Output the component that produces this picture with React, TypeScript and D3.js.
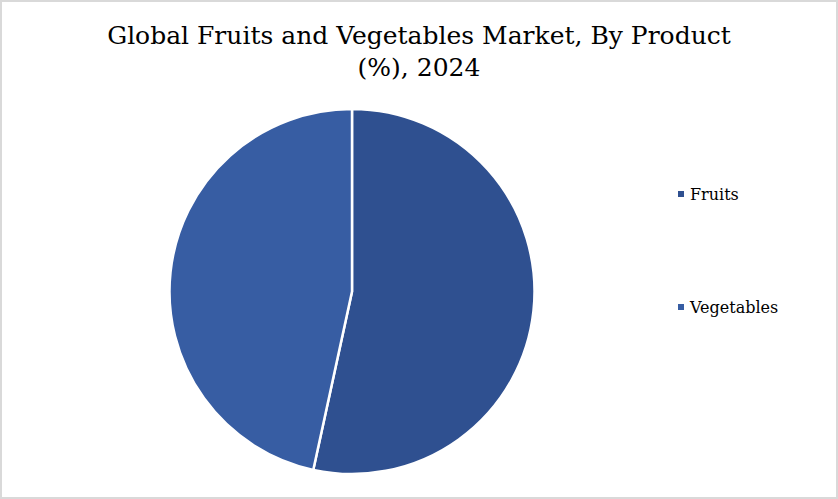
import * as d3 from "d3";
import * as React from "react";

const categories = ["Fruits", "Vegetables"];
const shares = [53.4, 46.6];
const colors = ["#2f5090", "#375da3"];
const titleLines = ["Global Fruits and Vegetables Market, By Product", "(%), 2024"];

export default function App() {
  const width = 838;
  const height = 499;
  const cx = 352;
  const cy = 291.5;
  const r = 182.5;

  const pie = d3
    .pie<number>()
    .sort(null)
    .value((d) => d);
  const arcs = pie(shares);
  const arc = d3.arc<d3.PieArcDatum<number>>().innerRadius(0).outerRadius(r);

  const font = "Georgia, 'DejaVu Serif', serif";

  return (
    <div style={{ position: "absolute", left: 0, top: 0 }}>
      <svg width={width} height={height} style={{ display: "block" }}>
        <rect x={1} y={1} width={width - 2} height={height - 2} fill="#fff" stroke="#d9d9d9" strokeWidth={2} />
        {titleLines.map((t, i) => (
          <text
            key={i}
            x={419}
            y={44 + i * 32}
            textAnchor="middle"
            fontFamily={font}
            fontSize={25}
            fill="#000"
          >
            {t}
          </text>
        ))}
        <g transform={`translate(${cx},${cy})`}>
          {arcs.map((a, i) => (
            <path key={i} d={arc(a) || ""} fill={colors[i]} stroke="#fff" strokeWidth={2.5} />
          ))}
        </g>
        {categories.map((c, i) => (
          <g key={c} transform={`translate(678,${194 + i * 113})`}>
            <rect x={0} y={-3} width={6} height={6} fill={colors[i]} />
            <text x={12} y={6} fontFamily={font} fontSize={16} fill="#000">
              {c}
            </text>
          </g>
        ))}
      </svg>
    </div>
  );
}
